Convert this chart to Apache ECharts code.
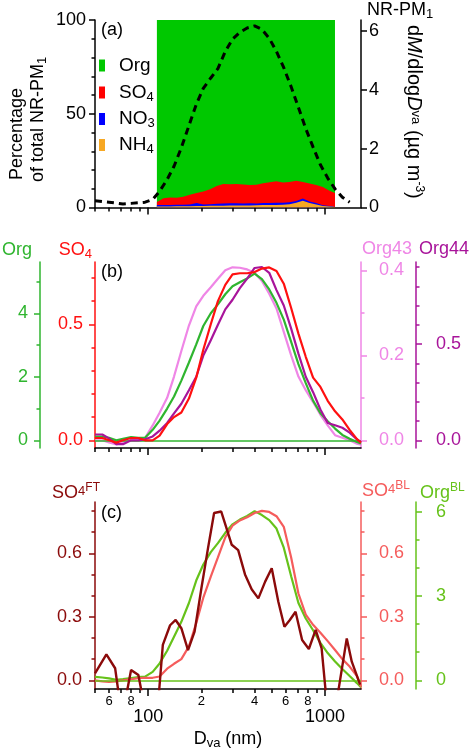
<!DOCTYPE html>
<html>
<head>
<meta charset="utf-8">
<script src="https://cdn.jsdelivr.net/npm/echarts@6.0.0/dist/echarts.min.js"></script>
<style>
html,body{margin:0;padding:0;background:#ffffff;}
#chart{width:474px;height:752px;}
</style>
</head>
<body>
<div id="chart"></div>
<script>
// ---------------- data ----------------
// common diameter grid (nm) for size distributions in panels (a)-(c)
const diam = [50,55,60,66,72,80,88,96,106,116,128,140,154,170,187,205,226,248,273,300,330,363,400,440,484,532,585,644,708,779,857,943,1037,1141,1255,1380,1518,1600];
// panel (a): NR-PM1 dM/dlogDva (ug m-3)
const nrpm1Mass = [0.23,0.2,0.18,0.15,0.12,0.14,0.16,0.18,0.27,0.55,0.95,1.4,2.03,2.78,3.5,4.05,4.4,4.72,5.3,5.72,5.95,6.1,6.17,6.05,5.75,5.3,4.75,4.1,3.4,2.68,2.05,1.45,1.0,0.63,0.35,0.18,null,null];
// panel (a): percentage of total NR-PM1
const compDiam = [112,122,133,145,158,172,188,205,224,244,266,290,316,345,376,410,447,487,531,579,631,688,750,818,892,973,1061,1140];
const pctNH4 = [0.6,0.6,0.6,0.7,0.7,0.7,0.8,0.8,0.9,1.0,1.0,1.1,1.1,1.1,1.1,1.2,1.3,1.3,1.4,1.5,1.8,2.5,3.6,2.4,1.6,0.8,0.5,0.4];
const pctNO3 = [0.7,0.8,0.8,0.8,0.8,0.9,1.6,0.8,0.9,1.0,1.2,1.2,1.2,1.1,1.2,1.0,1.1,1.1,1.1,1.1,1.0,1.0,1.2,0.8,0.8,0.4,0.3,0.3];
const pctSO4 = [1.7,3.6,4.0,3.7,4.3,5.2,5.4,6.9,8.0,9.5,10.4,10.1,10.3,10.1,9.7,9.9,10.5,11.1,11.5,10.7,10.8,10.8,8.8,9.6,9.6,9.8,8.2,7.1];
const pctOrg = [97.0,95.0,94.6,94.8,94.2,93.2,92.2,91.5,90.2,88.5,87.4,87.6,87.4,87.7,88.0,87.9,87.1,86.5,86.0,86.7,86.4,85.7,86.4,87.2,88.0,89.0,91.0,92.2];
// panel (b)
const orgB = [0.12,0.12,0.08,0.0,0.05,0.10,0.08,0.08,0.33,0.62,1.0,1.38,1.88,2.45,3.02,3.6,4.0,4.28,4.6,4.85,4.98,5.1,5.25,5.08,4.75,4.33,3.8,3.1,2.4,1.8,1.25,0.85,0.6,0.37,0.17,0.05,-0.05,-0.1];
const so4B = [0.01,0.01,0.0,-0.01,0.0,0.01,0.01,0.0,0.0,0.02,0.07,0.1,0.12,0.18,0.27,0.39,0.5,0.6,0.67,0.715,0.72,0.72,0.725,0.74,0.745,0.73,0.675,0.57,0.46,0.36,0.27,0.23,0.17,0.125,0.09,0.045,0.005,-0.01];
const org43B = [0.0,0.0,-0.005,-0.01,-0.005,0.0,0.0,0.005,0.035,0.065,0.1,0.15,0.21,0.27,0.315,0.34,0.36,0.38,0.4,0.407,0.406,0.402,0.394,0.375,0.345,0.31,0.255,0.2,0.15,0.118,0.09,0.06,0.035,0.012,0.006,0.0,-0.008,-0.01];
const org44B = [0.03,0.03,0.01,-0.02,-0.02,0.0,0.0,0.005,0.02,0.05,0.09,0.14,0.19,0.26,0.33,0.44,0.52,0.6,0.68,0.73,0.79,0.84,0.895,0.9,0.87,0.78,0.7,0.58,0.45,0.33,0.25,0.16,0.09,0.078,0.065,0.04,0.005,-0.01];
// panel (c)
const ftDiam = [50,58,65,69,74,80,88,94,114,121,133,143,154,168,183,200,218,236,259,277,297,323,353,385,420,459,500,545,590,633,682,743,811,886,958,1022,1165,1329,1419,1582];
const so4FT = [0.033,0.123,0.057,-0.1,-0.1,0.049,0.025,-0.1,-0.1,0.167,0.26,0.285,0.246,0.143,0.23,0.435,0.624,0.79,0.797,0.72,0.64,0.615,0.5,0.43,0.387,0.466,0.529,0.371,0.253,0.285,0.324,0.19,0.148,0.238,0.151,-0.1,-0.1,0.198,0.088,-0.02];
const so4BL = [0.0,-0.005,-0.007,-0.005,0.0,0.005,0.01,0.012,0.012,0.018,0.055,0.078,0.1,0.16,0.27,0.39,0.49,0.58,0.675,0.73,0.755,0.77,0.79,0.8,0.795,0.775,0.725,0.58,0.41,0.31,0.262,0.225,0.185,0.143,0.1,0.065,0.02,-0.03];
const orgBL = [0.12,0.1,0.07,0.02,0.04,0.08,0.11,0.13,0.3,0.6,1.05,1.55,2.08,2.75,3.55,4.12,4.56,4.88,5.25,5.55,5.72,5.85,6.02,5.88,5.7,5.4,4.72,3.7,2.75,2.2,1.78,1.33,0.97,0.67,0.4,0.15,-0.1,-0.25];

// ticks
const xMajor = [100, 1000];
const xMinor = [50,60,70,80,90,200,300,400,500,600,700,800,900];
const xLabelVals = [60,80,100,200,400,600,800,1000];
const pctMajor = [0,50,100], pctMinor = [10,20,30,40,60,70,80,90];
const massMajor = [0,2,4,6];
const orgMajor = [0,2,4], orgMinor = [1,3,5];
const so4Major = [0,0.5], so4Minor = [0.1,0.2,0.3,0.4,0.6,0.7];
const o43Major = [0,0.2,0.4], o43Minor = [0.1,0.3];
const o44Major = [0,0.5], o44Minor = [0.1,0.2,0.3,0.4,0.6,0.7,0.8,0.9];
const cMajor = [0,0.3,0.6], cMinor = [0.1,0.2,0.4,0.5,0.7,0.8];
const oblMajor = [0,3,6], oblMinor = [1,2,4,5];

// ---------------- style ----------------
const FONT = '"Liberation Sans", Arial, Helvetica, sans-serif';
const C = {
  org: '#00c800', so4: '#ff0000', no3: '#0000ff', nh4: '#f7a823',
  orgB: '#2fb52f', so4B: '#ff1010', org43: '#ef86e6', org44: '#a8149a',
  ft: '#8b0a0a', bl: '#f55c5c', orgBL: '#66c21a', k: '#000000'
};

function pairs(xs, ys) { return xs.map((x, i) => [x, ys[i]]); }
// cumulative (stacked) tops for the percentage composition, built from the component arrays
function cumulative(list) {
  return compDiam.map((x, i) => [x, list.reduce((s, arr) => s + arr[i], 0)]);
}
const f1 = v => (Math.round(v * 10) / 10).toFixed(1);
const f0 = v => String(Math.round(v));

function yPair(grid, pos, offset, min, max, majors, minors, color, fmt, margin) {
  const base = { type: 'value', gridIndex: grid, position: pos, offset: offset, min: min, max: max, splitLine: { show: false } };
  const out = [Object.assign({}, base, {
    axisLine: { show: true, onZero: false, lineStyle: { color: color, width: 1.5 } },
    axisTick: { show: true, inside: false, length: 6, customValues: majors, lineStyle: { color: color, width: 1.5 } },
    axisLabel: { show: true, customValues: majors, formatter: fmt, color: color, fontSize: 18, fontFamily: FONT, margin: margin }
  })];
  if (minors) {
    out.push(Object.assign({}, base, {
      axisLine: { show: false, onZero: false },
      axisTick: { show: true, inside: false, length: 3.5, customValues: minors, lineStyle: { color: color, width: 1.5 } },
      axisLabel: { show: false }
    }));
  }
  return out;
}

function xPair(grid, withLabels) {
  const base = { type: 'log', logBase: 10, gridIndex: grid, min: 50, max: 1600, position: 'bottom', splitLine: { show: false } };
  const main = Object.assign({}, base, {
    axisLine: { show: true, onZero: false, lineStyle: { color: C.k, width: 1.5 } },
    axisTick: { show: true, length: 7, customValues: xMajor, lineStyle: { color: C.k, width: 1.5 } },
    axisLabel: withLabels ? {
      show: true, customValues: xLabelVals, margin: 6, color: C.k, fontFamily: FONT,
      formatter: function (v) {
        const r = Math.round(v);
        if (r === 100 || r === 1000) return '{b|' + r + '}';
        return '{s|' + (r < 100 ? r / 10 : r / 100) + '}';
      },
      rich: {
        s: { fontSize: 13, color: C.k, fontFamily: FONT },
        b: { fontSize: 18, color: C.k, fontFamily: FONT, padding: [13, 0, 0, 0] }
      }
    } : { show: false }
  });
  const minor = Object.assign({}, base, {
    axisLine: { show: false, onZero: false },
    axisTick: { show: true, length: 4, customValues: xMinor, lineStyle: { color: C.k, width: 1.5 } },
    axisLabel: { show: false }
  });
  return [main, minor];
}

// rich styles for graphic texts
function gRich(color, fs) {
  fs = fs || 18;
  return {
    n: { fill: color, fontSize: fs, fontFamily: FONT, lineHeight: 22, verticalAlign: 'middle' },
    i: { fill: color, fontSize: fs, fontFamily: FONT, fontStyle: 'italic', lineHeight: 22, verticalAlign: 'middle' },
    q: { fill: color, fontSize: 13, fontFamily: FONT, lineHeight: 14, verticalAlign: 'bottom' },
    r: { fill: color, fontSize: 13, fontFamily: FONT, lineHeight: 14, verticalAlign: 'bottom', padding: [0, 0, 6, 0] },
    p: { fill: color, fontSize: 12, fontFamily: FONT, lineHeight: 13, verticalAlign: 'top', padding: [0, 0, 21, 0] }
  };
}
function gText(x, y, text, color, align, rotation, fs) {
  return {
    type: 'text', x: x, y: y, rotation: rotation || 0, z: 100,
    style: { text: text, rich: gRich(color, fs), fill: color, fontFamily: FONT, fontSize: fs || 18, align: align, verticalAlign: 'middle' }
  };
}

// legend
const legendNames = ['Org', 'SO4', 'NO3', 'NH4'];
const legendColors = [C.org, C.so4, C.no3, C.nh4];
const legendLabels = { Org: '{n|Org}', SO4: '{n|SO}{s|4}', NO3: '{n|NO}{s|3}', NH4: '{n|NH}{s|4}' };
const legendTops = [56, 74.5, 101, 127];
const legendRich = {
  n: { color: C.k, fontSize: 19, fontFamily: FONT, lineHeight: 22, padding: [0, 0, 0, 9], verticalAlign: 'middle' },
  s: { color: C.k, fontSize: 13, fontFamily: FONT, lineHeight: 14, padding: [16, 0, 0, 0], verticalAlign: 'bottom' }
};

// ---------------- axes ----------------
const yAxes = [].concat(
  // grid 0 (a): 0,1 left; 2 right
  yPair(0, 'left', 0, 0, 100, pctMajor, pctMinor, C.k, f0, 9),
  yPair(0, 'right', 0, 0, 6.37, massMajor, null, C.k, f0, 8),
  // grid 1 (b): 3,4 Org; 5,6 SO4; 7,8 Org43; 9,10 Org44
  yPair(1, 'left', 55, -0.2425, 5.616, orgMajor, orgMinor, C.orgB, f0, 12),
  yPair(1, 'left', 0, -0.0332, 0.7685, so4Major, so4Minor, C.so4B, f1, 12),
  yPair(1, 'right', 0, -0.0181, 0.4195, o43Major, o43Minor, C.org43, f1, 18),
  yPair(1, 'right', 55, -0.040, 0.926, o44Major, o44Minor, C.org44, f1, 20),
  // grid 2 (c): 11,12 SO4FT; 13,14 SO4BL; 15,16 OrgBL
  yPair(2, 'left', 0, -0.041, 0.842, cMajor, cMinor, C.ft, f1, 13),
  yPair(2, 'right', 0, -0.041, 0.842, cMajor, cMinor, C.bl, f1, 18),
  yPair(2, 'right', 55, -0.31, 6.345, oblMajor, oblMinor, C.orgBL, f0, 20)
);
const xAxes = [].concat(xPair(0, false), xPair(1, false), xPair(2, true));

function line(name, xi, yi, data, color, width, z, extra) {
  return Object.assign({
    type: 'line', name: name, xAxisIndex: xi, yAxisIndex: yi, data: data,
    symbol: 'none', showSymbol: false, smooth: false, clip: true, z: z || 3,
    lineStyle: { color: color, width: width }, itemStyle: { color: color }
  }, extra || {});
}
function area(name, data, color) {
  return {
    type: 'line', name: name, xAxisIndex: 0, yAxisIndex: 0, data: data,
    symbol: 'none', showSymbol: false, z: 2,
    lineStyle: { width: 0, color: color }, itemStyle: { color: color },
    areaStyle: { color: color, opacity: 1, origin: 'start' }
  };
}
function zeroLine(color) {
  return { silent: true, symbol: ['none', 'none'], label: { show: false }, animation: false,
    lineStyle: { color: color, width: 1.5, type: 'solid' }, data: [{ yAxis: 0 }] };
}

const option = {
  animation: false,
  backgroundColor: '#ffffff',
  textStyle: { fontFamily: FONT },
  grid: [
    { left: 95, right: 113, top: 20, bottom: 544.5, containLabel: false, outerBoundsMode: 'none' },
    { left: 95, right: 113, top: 262, bottom: 304, containLabel: false, outerBoundsMode: 'none' },
    { left: 95, right: 113, top: 502, bottom: 63, containLabel: false, outerBoundsMode: 'none' }
  ],
  xAxis: xAxes,
  yAxis: yAxes,
  legend: legendNames.map((nm, i) => ({
    data: [{ name: nm, itemStyle: { color: legendColors[i] } }],
    left: 99, top: legendTops[i], orient: 'vertical', padding: 0,
    itemWidth: 6, itemHeight: 12, icon: 'rect', selectedMode: false,
    formatter: name => legendLabels[name],
    textStyle: { fontFamily: FONT, fontSize: 19, color: C.k, rich: legendRich }
  })),
  series: [
    // (a) stacked composition, drawn top layer first
    area('Org', cumulative([pctNH4, pctNO3, pctSO4, pctOrg]), C.org),
    area('SO4', cumulative([pctNH4, pctNO3, pctSO4]), C.so4),
    area('NO3', cumulative([pctNH4, pctNO3]), C.no3),
    area('NH4', cumulative([pctNH4]), C.nh4),
    line('NR-PM1', 0, 2, pairs(diam, nrpm1Mass), C.k, 3, 5, { lineStyle: { color: C.k, width: 3, type: [7, 5] } }),
    // (b)
    line('Org43 (b)', 2, 7, pairs(diam, org43B), C.org43, 2.2, 3),
    line('Org (b)', 2, 3, pairs(diam, orgB), C.orgB, 2.2, 4, { markLine: zeroLine(C.orgB) }),
    line('Org44 (b)', 2, 9, pairs(diam, org44B), C.org44, 2.2, 5),
    line('SO4 (b)', 2, 5, pairs(diam, so4B), C.so4B, 2.2, 6),
    // (c)
    line('OrgBL', 4, 15, pairs(diam, orgBL), C.orgBL, 2.2, 3, { markLine: zeroLine(C.orgBL) }),
    line('SO4BL', 4, 13, pairs(diam, so4BL), C.bl, 2.2, 4),
    line('SO4FT', 4, 11, pairs(ftDiam, so4FT), C.ft, 2.4, 5)
  ],
  graphic: {
    elements: [
      gText(101, 30, '{n|(a)}', C.k, 'left'),
      gText(101, 272, '{n|(b)}', C.k, 'left'),
      gText(101, 513, '{n|(c)}', C.k, 'left'),
      // panel (a) titles
      gText(17, 180, '{n|Percentage}', C.k, 'left', Math.PI / 2),
      gText(38, 182, '{n|of total NR-PM}{q|1}', C.k, 'left', Math.PI / 2),
      gText(367, 10, '{n|NR-PM}{q|1}', C.k, 'left'),
      gText(414, 25, '{n|d}{i|M}{n|/dlog}{i|D}{r|va}{n| (µg m}{p|-3}{n|)}', C.k, 'left', -Math.PI / 2, 20),
      // panel (b) titles
      gText(32, 250, '{n|Org}', C.orgB, 'right'),
      gText(92, 250, '{n|SO}{q|4}', C.so4B, 'right'),
      gText(362, 249, '{n|Org43}', C.org43, 'left'),
      gText(419, 249, '{n|Org44}', C.org44, 'left'),
      // panel (c) titles
      gText(100, 493, '{n|SO}{r|4}{p|FT}', C.ft, 'right'),
      gText(362, 491, '{n|SO}{r|4}{p|BL}', C.bl, 'left'),
      gText(420, 493, '{n|Org}{p|BL}', C.orgBL, 'left'),
      // x axis title
      gText(228, 739, '{n|D}{q|va}{n| (nm)}', C.k, 'center')
    ]
  }
};

const chart = echarts.init(document.getElementById('chart'), null, { renderer: 'canvas', width: 474, height: 752 });
chart.setOption(option);
</script>
</body>
</html>
